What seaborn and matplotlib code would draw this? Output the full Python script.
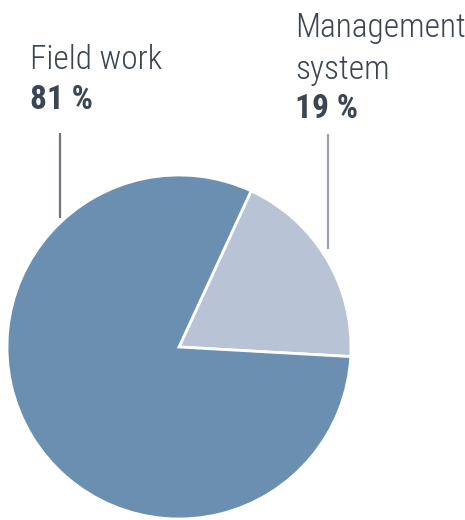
import matplotlib
matplotlib.use("Agg")
import matplotlib.pyplot as plt
import seaborn as sns

# Share of effort by category
categories = ["Management\nsystem", "Field work"]
shares = [19, 81]
colors = ["#b8c4d6", "#6a8fb0"]

sns.set_theme(style="white")
plt.rcParams["font.family"] = ["Roboto Condensed", "DejaVu Sans"]

W, H = 465, 520
fig = plt.figure(figsize=(W / 100, H / 100), dpi=100)
ax = fig.add_axes([0, 0, 1, 1])

# Pie placed in pixel-like data units (origin bottom-left)
cx, cy, r = 179, H - 347, 172
mid_angle = 31  # centre of the smaller wedge, degrees
start = mid_angle - shares[0] / 100 * 360 / 2
ax.pie(shares, colors=colors, startangle=start, counterclock=True,
       center=(cx, cy), radius=r,
       wedgeprops=dict(edgecolor="white", linewidth=2))

ax.set_xlim(0, W)
ax.set_ylim(0, H)
ax.set_aspect("auto")
ax.axis("off")

text_color = "#3c4651"
fs = 24
light = dict(fontsize=fs, color=text_color, fontweight=300, ha="left", va="baseline")
bold = dict(fontsize=fs, color=text_color, fontweight="bold", ha="left", va="baseline")

# Field work label
ax.text(30, H - 69, categories[1], **light)
ax.text(30, H - 109, f"{shares[1]} %", **bold)
ax.plot([59.5, 59.5], [H - 133, H - 218], color="#6f767d", lw=1.6,
        solid_capstyle="butt")

# Management system label
name_lines = categories[0].split("\n")
ax.text(295, H - 37, name_lines[0], **light)
ax.text(295, H - 79, name_lines[1], **light)
ax.text(295, H - 118, f"{shares[0]} %", **bold)
ax.plot([328, 328], [H - 134, H - 249], color="#9aa0a6", lw=1.6,
        solid_capstyle="butt")

fig.savefig("out.png", dpi=100)
